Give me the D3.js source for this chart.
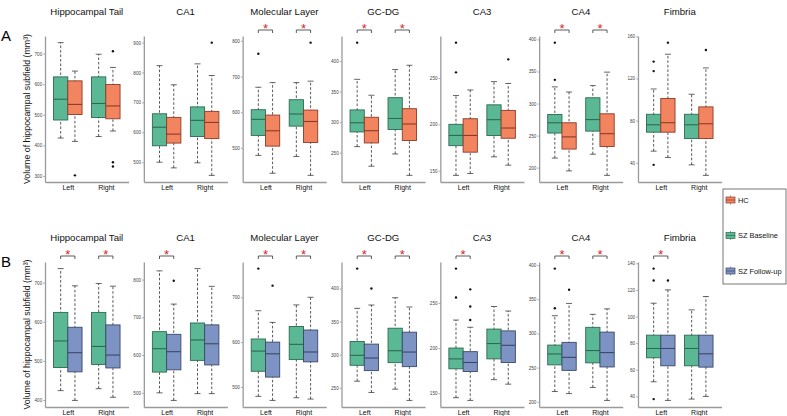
<!DOCTYPE html>
<html><head><meta charset="utf-8">
<script src="https://cdn.jsdelivr.net/npm/d3@7"></script>
<style>body{margin:0;background:#fff} svg text{font-family:"Liberation Sans",Arial,sans-serif}</style>
</head><body><svg id="c" width="787" height="416"></svg>
<script>
// ---------- DATA ----------
const regions = ["Hippocampal Tail","CA1","Molecular Layer","GC-DG","CA3","CA4","Fimbria"];
const sides = ["Left","Right"];
const groups = ["HC","SZ Baseline","SZ Follow-up"];
// stats per region per side: [lower whisker, Q1, median, Q3, upper whisker]
const baselineStats = [
  [[424,483,551,624,736],[429,491,537,624,698]],
  [[500,555,617,662,823],[498,586,640,685,829]],
  [[479,535,580,607,670],[476,561,595,635,683]],
  [[260,284,299,320,370],[248,288,306,340,386]],
  [[145,177,188,200,231],[165,188,205,221,246]],
  [[215,254,270,283,326],[221,257,275,309,328]],
  [[51,69,76,86,110],[38,63,76,86,105]]
];
const baselineOutliers = [
  [[],[]],[[],[]],[[764],[]],[[430],[]],[[256,288],[]],[[337,395],[]],[[38,127,136],[]]
];
const hcStats = [
  [[413,501,534,611,643],[447,487,529,599,655]],
  [[481,564,594,650,759],[456,579,633,670,790]],
  [[429,505,548,592,683],[423,515,574,606,687]],
  [[228,266,286,308,344],[213,270,297,322,393]],
  [[147,170,188,206,237],[156,185,196,215,244]],
  [[195,229,248,270,318],[188,233,253,284,349]],
  [[45,69,78,101,143],[28,63,77,93,130]]
];
const hcOutliers = [
  [[302],[331,345,708]],[[],[900]],[[],[795]],[[],[]],[[],[270]],[[],[]],[[154],[147]]
];
const followupStats = [
  [[399,472,521,586,692],[407,482,515,592,691]],
  [[480,561,609,655,735],[498,574,630,680,782]],
  [[470,522,574,600,644],[473,556,578,627,700]],
  [[243,276,295,316,375],[231,282,304,334,372]],
  [[142,174,184,196,223],[160,184,203,219,241]],
  [[212,246,265,287,344],[202,251,272,302,336]],
  [[37,63,76,86,120],[40,62,72,86,115]]
];
const followupOutliers = [
  [[],[]],[[797],[]],[[726],[]],[[400],[]],[[231,246,265],[]],[[364],[]],[[127],[]]
];
// significance (1 = asterisk) per region per side
const sigA = [[0,0],[0,0],[1,1],[1,1],[0,0],[1,1],[0,0]];
const sigB = [[1,1],[1,0],[1,1],[1,1],[1,0],[1,1],[1,0]];
// y tick labels per region
const ticksA = [[300,400,500,600,700],[500,600,700,800,900],[500,600,700,800],[250,300,350,400],[150,200,250],[200,250,300,350,400],[40,80,120,160]];
const ticksB = [[400,500,600,700],[500,600,700,800],[500,600,700],[250,300,350,400],[150,200,250],[200,250,300,350,400],[40,60,80,100,120,140]];

// ---------- STYLE ----------
const fills = {"HC":"#f2845f","SZ Baseline":"#5bb894","SZ Follow-up":"#7d93c4"};
const strokes = {"HC":"#8a3c28","SZ Baseline":"#2c6a53","SZ Follow-up":"#3b4868"};
const yTitle = "Volume of hippocampal subfield (mm³)";

const svg = d3.select("#c");
const x0First = 45, step = 98.83, unit = 38, plotW = unit*2.2;

const rows = [
  {label:"A", top:36, bottom:182, other:"HC", stats:hcStats, out:hcOutliers, sig:sigA, ticks:ticksA},
  {label:"B", top:262, bottom:407, other:"SZ Follow-up", stats:followupStats, out:followupOutliers, sig:sigB, ticks:ticksB}
];

rows.forEach(row => {
  const g = svg.append("g");
  g.append("text").attr("x",1).attr("y",row.top+5).attr("font-size",15).attr("fill","#000").text(row.label);
  g.append("text").attr("transform",`translate(30,${(row.top+row.bottom)/2}) rotate(-90)`)
    .attr("text-anchor","middle").attr("font-size",8.8).attr("fill","#111").text(yTitle);

  regions.forEach((reg, ri) => {
    const x0 = x0First + ri*step;
    const series = [
      {grp:"SZ Baseline", stats:baselineStats[ri], out:baselineOutliers[ri]},
      {grp:row.other, stats:row.stats[ri], out:row.out[ri]}
    ];
    const allVals = [];
    series.forEach(s => s.stats.forEach((st,si)=>{allVals.push(st[0],st[4]); s.out[si].forEach(v=>allVals.push(v));}));
    const [mn,mx] = d3.extent(allVals);
    const pad = (mx-mn)*0.05;
    const y = d3.scaleLinear().domain([mn-pad, mx+pad]).range([row.bottom, row.top]);
    const x = d3.scalePoint().domain(sides).range([x0, x0+plotW]).padding(0.6);
    const xs = d3.scaleBand().domain(["SZ Baseline", row.other]).range([-unit*0.375, unit*0.375]);
    const bw = xs.bandwidth();
    const pg = g.append("g");

    // title
    pg.append("text").attr("x", x0+plotW/2).attr("y", row.top-21.5).attr("text-anchor","middle")
      .attr("font-size",9.6).attr("fill","#111").text(reg);

    // axes
    const ya = pg.append("g").attr("transform",`translate(${x0},0)`)
      .call(d3.axisLeft(y).tickValues(row.ticks[ri]).tickSize(1.8).tickSizeOuter(0).tickPadding(1));
    ya.select(".domain").attr("stroke","#9a9a9a").attr("stroke-width",1.3);
    ya.selectAll(".tick line").attr("stroke","#777").attr("stroke-width",0.6);
    ya.selectAll(".tick text").attr("font-size",4.6).attr("fill","#444").attr("font-family","Liberation Sans, Arial, sans-serif");
    const xa = pg.append("g").attr("transform",`translate(0,${row.bottom})`)
      .call(d3.axisBottom(x).tickSize(0).tickSizeOuter(0).tickPadding(3.5));
    xa.select(".domain").attr("stroke","#9a9a9a").attr("stroke-width",1.3);
    xa.selectAll(".tick text").attr("font-size",7).attr("fill","#111").attr("font-family","Liberation Sans, Arial, sans-serif");

    // boxes
    series.forEach(s => {
      sides.forEach((side, si) => {
        const st = s.stats[si];
        const cx = x(side) + xs(s.grp) + bw/2;
        const bg = pg.append("g");
        bg.append("line").attr("x1",cx).attr("x2",cx).attr("y1",y(st[0])).attr("y2",y(st[4]))
          .attr("stroke","#222").attr("stroke-width",0.75).attr("stroke-dasharray","2.6,1.9");
        [st[0],st[4]].forEach(v => bg.append("line").attr("x1",cx-3).attr("x2",cx+3).attr("y1",y(v)).attr("y2",y(v))
          .attr("stroke","#333").attr("stroke-width",0.75));
        bg.append("rect").attr("x",cx-bw/2).attr("width",bw).attr("y",y(st[3])).attr("height",y(st[1])-y(st[3]))
          .attr("fill",fills[s.grp]).attr("stroke",strokes[s.grp]).attr("stroke-width",0.9);
        bg.append("line").attr("x1",cx-bw/2).attr("x2",cx+bw/2).attr("y1",y(st[2])).attr("y2",y(st[2]))
          .attr("stroke",strokes[s.grp]).attr("stroke-width",1.1);
        s.out[si].forEach(v => bg.append("circle").attr("cx",cx).attr("cy",y(v)).attr("r",1.2).attr("fill","#111"));
      });
    });

    // significance brackets
    sides.forEach((side, si) => {
      if (!row.sig[ri][si]) return;
      const xa1 = x(side) + xs("SZ Baseline") + bw/2;
      const xb1 = x(side) + xs(row.other) + bw/2;
      const yb = row.top - 6;
      pg.append("path").attr("d",`M${xa1},${yb+3}V${yb}H${xb1}V${yb+3}`)
        .attr("fill","none").attr("stroke","#333").attr("stroke-width",0.8);
      pg.append("text").attr("x",(xa1+xb1)/2).attr("y",row.top-3.5).attr("text-anchor","middle")
        .attr("font-size",13).attr("fill","#d6262b").text("*");
    });
  });
});

// legend
const lg = svg.append("g");
lg.append("rect").attr("x",723).attr("y",189).attr("width",63).attr("height",95)
  .attr("fill","#fff").attr("stroke","#555").attr("stroke-width",0.8);
const legY = d3.scalePoint().domain(groups).range([200,271]);
groups.forEach(gname => {
  const cy = legY(gname);
  lg.append("line").attr("x1",730.5).attr("x2",730.5).attr("y1",cy-4.5).attr("y2",cy+4.5).attr("stroke","#555").attr("stroke-width",0.6);
  lg.append("rect").attr("x",726).attr("y",cy-3).attr("width",9).attr("height",6)
    .attr("fill",fills[gname]).attr("stroke",strokes[gname]).attr("stroke-width",0.7);
  lg.append("line").attr("x1",726).attr("x2",735).attr("y1",cy).attr("y2",cy).attr("stroke",strokes[gname]).attr("stroke-width",0.7);
  lg.append("text").attr("x",738).attr("y",cy+2.6).attr("font-size",7.4).attr("fill","#111").text(gname);
});
</script></body></html>
